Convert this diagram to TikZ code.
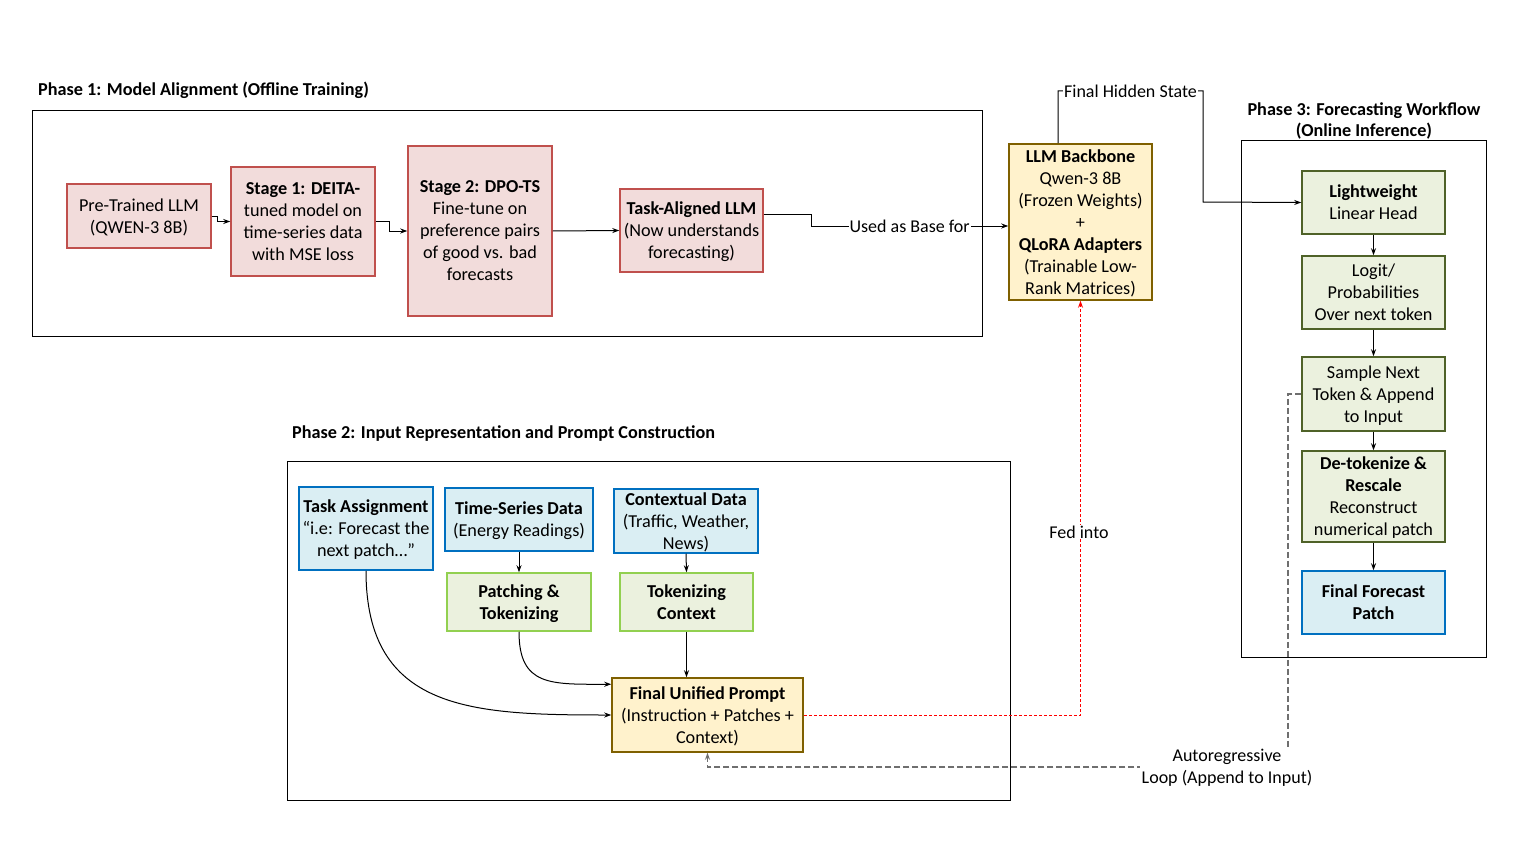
\documentclass[tikz,border=0pt]{standalone}
\usepackage{fontspec}
\setmainfont{Carlito}
\usetikzlibrary{arrows.meta,calc}
\definecolor{rfill}{HTML}{F2DCDB}
\definecolor{rdraw}{HTML}{C0504D}
\definecolor{yfill}{HTML}{FFF2CC}
\definecolor{ydraw}{HTML}{7F6000}
\definecolor{bfill}{HTML}{DAEEF3}
\definecolor{bdraw}{HTML}{0070C0}
\definecolor{gfill}{HTML}{EBF1DE}
\definecolor{gdraw}{HTML}{92D050}
\definecolor{odraw}{HTML}{4F6228}
\definecolor{loopgray}{HTML}{6F6F6F}
\tikzset{
  box/.style={draw, line width=1.5pt, align=center, inner sep=0.5pt, font=\fontsize{18.2}{22}\selectfont, text depth=0pt},
  redbox/.style={box, fill=rfill, draw=rdraw},
  yelbox/.style={box, fill=yfill, draw=ydraw},
  bluebox/.style={box, fill=bfill, draw=bdraw},
  grnbox/.style={box, fill=gfill, draw=gdraw},
  olvbox/.style={box, fill=gfill, draw=odraw},
  frame/.style={draw=black, line width=1pt},
  phasetitle/.style={font=\fontsize{18.2}{21}\selectfont\bfseries, inner sep=0pt},
  conn/.style={draw=black, line width=1pt, -{Stealth[length=7pt,width=5pt]}},
  lbl/.style={fill=white, inner sep=1pt, font=\fontsize{18}{22}\selectfont},
}
\begin{document}
\begin{tikzpicture}[x=1pt,y=-1pt]
\useasboundingbox[fill=white] (0,0) rectangle (1539,856);

% Phase frames
\draw[frame] (32,111) rectangle (982,336);
\draw[frame] (287,461) rectangle (1010,800);
\draw[frame] (1241,141) rectangle (1486,657);

\node[phasetitle, anchor=west] (t1) at (38,90) {Phase 1: Model Alignment (Offline Training)};
\node[phasetitle, anchor=west] (t2) at (292,434) {Phase 2: Input Representation and Prompt Construction};
\node[phasetitle, align=center] (t3) at (1364,120.5) {Phase 3: Forecasting Workflow\\(Online Inference)};

% Phase 1 nodes
\node[redbox, minimum width=144, minimum height=64] (pre) at (139,216) {Pre-Trained LLM\\(QWEN-3 8B)};
\node[redbox, minimum width=144, minimum height=109] (s1) at (303,221.5) {\textbf{Stage 1: DEITA-}\\tuned model on\\time-series data\\with MSE loss};
\node[redbox, minimum width=144, minimum height=170] (s2) at (480,231) {\textbf{Stage 2: DPO-TS}\\Fine-tune on\\preference pairs\\of good vs. bad\\forecasts};
\node[redbox, minimum width=143, minimum height=83] (tal) at (691.5,230.5) {\textbf{Task-Aligned LLM}\\(Now understands\\forecasting)};
\node[yelbox, minimum width=143, minimum height=156] (llm) at (1080.5,222) {\textbf{LLM Backbone}\\Qwen-3 8B\\(Frozen Weights)\\+\\\textbf{QLoRA Adapters}\\(Trainable Low-\\Rank Matrices)};

% Phase 3 nodes
\node[olvbox, minimum width=143, minimum height=63] (lin) at (1373.5,202.5) {\textbf{Lightweight}\\Linear Head};
\node[olvbox, minimum width=143, minimum height=73] (logit) at (1373.5,292.5) {Logit/\\Probabilities\\Over next token};
\node[olvbox, minimum width=143, minimum height=74] (samp) at (1373.5,394) {Sample Next\\Token \& Append\\to Input};
\node[olvbox, minimum width=143, minimum height=91] (detok) at (1373.5,496.5) {\textbf{De-tokenize \&}\\\textbf{Rescale}\\Reconstruct\\numerical patch};
\node[bluebox, minimum width=143, minimum height=63] (ffp) at (1373.5,602.5) {\textbf{Final Forecast}\\\textbf{Patch}};

% Phase 2 nodes
\node[bluebox, minimum width=134, minimum height=83] (task) at (366,528.5) {\textbf{Task Assignment}\\“i.e: Forecast the\\next patch…”};
\node[bluebox, minimum width=148, minimum height=63] (tsd) at (519,519.5) {\textbf{Time-Series Data}\\(Energy Readings)};
\node[bluebox, minimum width=144, minimum height=64] (ctx) at (686,521) {\textbf{Contextual Data}\\(Traffic, Weather,\\News)};
\node[grnbox, minimum width=144, minimum height=58] (patch) at (519,602) {\textbf{Patching \&}\\\textbf{Tokenizing}};
\node[grnbox, minimum width=133, minimum height=58] (tokc) at (686.5,602) {\textbf{Tokenizing}\\\textbf{Context}};
\node[yelbox, minimum width=191, minimum height=74] (prompt) at (707.5,715) {\textbf{Final Unified Prompt}\\(Instruction + Patches +\\Context)};

% Phase 1 connectors
\draw[conn] (pre.east) -- ++(6,0) |- (s1.west);
\draw[conn] (s1.east) -- ++(14,0) |- (s2.west);
\draw[conn] (s2.east) -- (tal.west);
\draw[conn] ([yshift=16.5pt]tal.east) -- (811,214) -- (811,226) -- node[lbl] (ubf) {Used as Base for} ([yshift=-4pt]llm.west);

% Final hidden state
\draw[conn] ([xshift=-22.5pt]llm.north) -- (1058,91) -- node[lbl] (fhs) {Final Hidden State} (1203,91) -- (1203,202) -- (lin.west);

% Phase 3 vertical
\draw[conn] (lin.south) -- (logit.north);
\draw[conn] (logit.south) -- (samp.north);
\draw[conn] (samp.south) -- (detok.north);
\draw[conn] (detok.south) -- (ffp.north);

% Phase 2 connectors
\draw[conn] (tsd.south) -- (patch.north);
\draw[conn] (ctx.south) -- (tokc.north);
\draw[conn] (tokc.south) -- ([xshift=-21pt]prompt.north);
\draw[conn] (patch.south) .. controls +(0,55) and +(-60,0) .. ([yshift=-7pt]prompt.north west);
\draw[conn] (task.south) .. controls +(0,140) and +(-140,0) .. (prompt.west);

% Fed into (red dashed)
\draw[red, line width=0.9pt, dash pattern=on 3pt off 2pt, -{Stealth[length=7pt,width=5pt]}] (prompt.east) -| (llm.south);
\node[lbl] (fed) at (1079,532) {Fed into};

% Autoregressive loop
\draw[loopgray, line width=1.3pt, dash pattern=on 6pt off 3pt, -{Stealth[length=7pt,width=5pt]}] (samp.west) -- (1288,394) -- (1288,767) -- (707.5,767) -- (prompt.south);
\node[lbl, align=center, inner sep=2pt] (arl) at (1227,768) {Autoregressive\\Loop (Append to Input)};
\end{tikzpicture}
\end{document}
